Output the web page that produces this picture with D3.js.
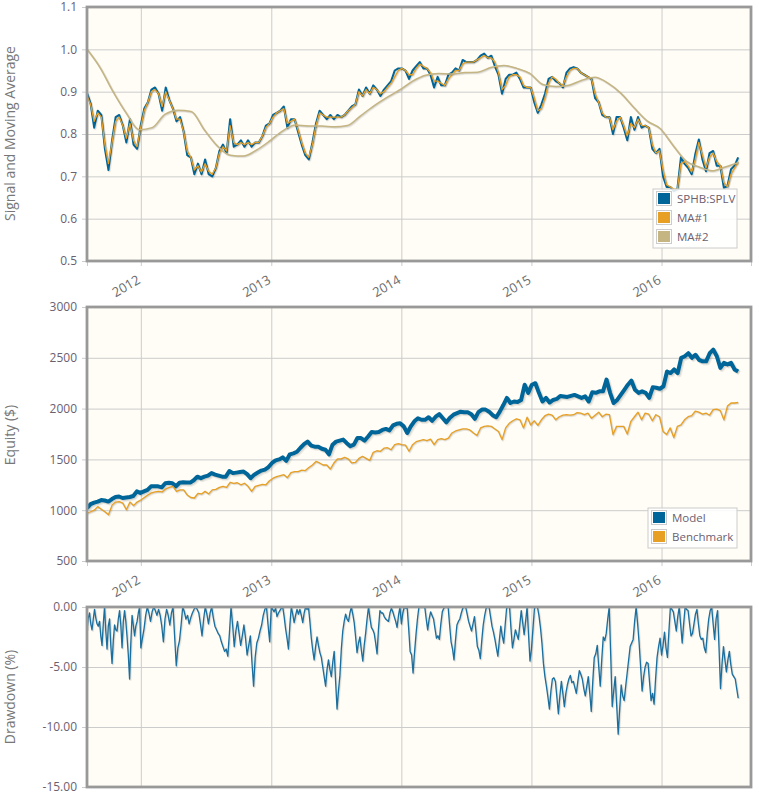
<!DOCTYPE html>
<html>
<head>
<meta charset="utf-8">
<script src="https://cdn.jsdelivr.net/npm/d3@7"></script>
<style>
body{margin:0;background:#fff}
text{font-family:"Open Sans",sans-serif}
</style>
</head>
<body>
<div id="canvas"></div>
<script>
"use strict"

let svgWidth=759
let svgHeight=793

let dataStart=new Date(2011,7,3)
let dataEnd=new Date(2016,7,3)
let axisEnd=new Date(2016,8,8)
let yearTicks=[2012,2013,2014,2015,2016]

let signalTicks=[0.5,0.6,0.7,0.8,0.9,1.0,1.1]
let equityTicks=[500,1000,1500,2000,2500,3000]
let drawdownTicks=[0,-5,-10,-15]

let signal=[.897,.872,.815,.855,.845,.765,.715,.785,.84,.845,.82,.78,.835,.775,.765,.82,.86,.875,.905,.91,.895,.855,.91,.88,.86,.83,.84,.805,.75,.745,.705,.73,.705,.74,.705,.70,.72,.76,.775,.755,.835,.77,.775,.785,.77,.785,.77,.78,.78,.795,.82,.825,.845,.85,.855,.865,.815,.835,.835,.805,.775,.75,.74,.78,.825,.855,.845,.835,.845,.835,.845,.84,.845,.855,.865,.87,.905,.89,.91,.895,.915,.905,
.89,.905,.915,.925,.95,.955,.955,.95,.93,.95,.96,.97,.955,.955,.94,.91,.935,.915,.915,.94,.945,.955,.95,.975,.97,.97,.97,.975,.985,.99,.98,.985,.96,.94,.895,.93,.94,.94,.945,.93,.91,.91,.91,.875,.85,.87,.895,.93,.935,.925,.92,.91,.945,.955,.958,.955,.945,.94,.935,.93,.885,.875,.845,.84,.84,.80,.84,.84,.815,.785,.84,.81,.84,.815,.82,.815,.765,.755,.765,.70,.675,.675,.665,.67,.745,.73,.72,.705,.752,.787,.74,.712,.755,.76,.725,.725,.673,.677,.717,.725,.745]

let maOne=[.89,.87,.83,.85,.84,.775,.73,.78,.83,.84,.82,.79,.825,.785,.77,.815,.855,.875,.90,.905,.895,.865,.90,.88,.86,.835,.835,.805,.76,.745,.715,.725,.71,.73,.712,.705,.72,.755,.77,.76,.82,.78,.775,.78,.775,.78,.775,.78,.78,.795,.815,.825,.84,.85,.855,.86,.825,.83,.835,.81,.78,.755,.745,.775,.82,.85,.845,.84,.84,.84,.84,.84,.845,.855,.862,.87,.90,.89,.905,.895,.91,.905,
.895,.90,.91,.92,.935,.95,.955,.95,.94,.94,.955,.965,.96,.955,.945,.925,.925,.92,.915,.93,.94,.95,.95,.965,.97,.97,.97,.975,.98,.985,.98,.98,.97,.945,.905,.915,.935,.94,.94,.935,.915,.91,.91,.885,.855,.86,.885,.92,.935,.93,.92,.915,.935,.95,.955,.955,.945,.94,.935,.93,.895,.875,.85,.84,.84,.81,.83,.84,.82,.795,.825,.815,.835,.82,.82,.815,.775,.755,.76,.715,.68,.675,.67,.67,.73,.735,.725,.71,.74,.78,.75,.72,.745,.755,.735,.725,.685,.675,.705,.72,.735]

let maTwo=[1.0,.957,.90,.85,.81,.815,.847,.856,.853,.81,.772,.75,.748,.762,.783,.807,.821,.819,.819,.817,.82,.843,.866,.886,.904,.925,.939,.943,.942,.945,.946,.957,.962,.955,.943,.917,.912,.915,.927,.934,.92,.896,.862,.831,.813,.773,.736,.722,.713,.722,.732]

let model=[1020,1060,1075,1085,1100,1095,1085,1110,1130,1135,1120,1125,1130,1140,1185,1170,1185,1200,1235,1235,1235,1225,1265,1270,1265,1235,1270,1275,1272,1272,1295,1330,1315,1330,1340,1365,1350,1340,1330,1330,1385,1365,1370,1375,1380,1355,1315,1350,1370,1390,1400,1425,1465,1490,1500,1520,1485,1550,1560,1575,1615,1650,1675,1635,1625,1625,1605,1595,1550,1645,1675,1685,1695,1660,1630,1645,1710,1710,1685,1725,1770,1765,
1770,1790,1800,1785,1835,1850,1855,1825,1760,1825,1875,1905,1890,1890,1915,1880,1920,1945,1905,1865,1910,1940,1955,1970,1965,1965,1945,1900,1965,1990,1990,1970,1935,1915,1970,2035,2105,2055,2070,2065,2085,2235,2155,2235,2250,2155,2070,2105,2060,2085,2095,2125,2120,2115,2125,2135,2120,2105,2120,2070,2160,2155,2170,2170,2285,2155,2055,2085,2135,2185,2235,2275,2185,2155,2170,2155,2105,2210,2205,2195,2220,2365,2350,2385,2350,2500,2515,2545,2500,2530,2480,2465,2465,2545,2580,2515,2400,2450,2435,2450,2385,2365]

let benchmark=[970,985,1000,1035,1010,985,955,1050,1080,1085,1070,1005,1080,1045,1080,1100,1125,1150,1170,1180,1185,1180,1210,1225,1235,1185,1200,1200,1150,1125,1120,1165,1160,1185,1160,1200,1205,1225,1235,1225,1275,1265,1270,1250,1265,1235,1185,1235,1245,1255,1250,1290,1315,1330,1340,1350,1320,1370,1380,1380,1395,1390,1420,1445,1480,1465,1445,1445,1405,1465,1505,1505,1520,1505,1465,1470,1510,1530,1510,1490,1570,1585,
1580,1610,1615,1595,1645,1655,1645,1640,1580,1645,1675,1685,1695,1685,1700,1645,1695,1705,1695,1710,1760,1780,1790,1800,1800,1790,1760,1735,1810,1825,1830,1825,1800,1775,1695,1810,1855,1880,1900,1890,1810,1915,1840,1880,1835,1890,1930,1945,1935,1890,1920,1935,1940,1935,1940,1960,1955,1940,1955,1905,1935,1965,1920,1945,1940,1745,1825,1825,1825,1750,1875,1920,1965,1890,1955,1945,1880,1940,1920,1775,1745,1810,1715,1825,1840,1890,1920,1930,1975,1965,1945,1955,1935,1990,1995,1980,1890,2025,2055,2055,2060]

let dd2011=[-1.9,-.9,-.5,-1.4,-1.9,-1,-.2,-.9,-1.4,-1.6,-1.2,-2.4,-3.2,-1.4,0,-2,-3.5,-1.6,-1,-3.2,-4.7,-2.8,-1.5,-1.9,-2,-1,-.3,-1.5,-3.4,-1.2,-.3,-1.2,-2.5,-4,-6,-3,-.7,-1.5,-2.4,-1.6,-1.2,-.5,0]
let dd2012=[-3.4,-2.6,-1.8,-.7,0,-.5,-1.2,-.4,0,-.3,-.7,-.2,-.7,-1.6,-2.9,-1,-.2,-.7,-1.5,-.5,0,-2.5,-4.9,-3.4,-2.8,-1.5,0,-.4,-1,-.7,-1.4,-.9,-.5,-.2,0,-.2,-.5,-1.4,-2.4,-1,0,-.6,-1.4,-.5,0,-.9,-1.6,-1.9,-2.2,-2.4,-2.9,-3.3,-3.7,-3.5,-4.1,-2.2,0,-1.5,-3.3,-2,-1.2,-2.2,-3.2,-2.4,-1.5,-2.6,-4,-3.2,-2.4,-4.6,-6.6,-4.2,-3,-2.6,-2,-1.5,-.7,-.2,0,-1.5,-2.9]
let dd2013=[0,-.2,-.4,-.1,-.8,-.5,-.3,-.1,0,-.8,-1.8,-2.6,-3.5,-1.5,0,-.6,-1.3,-.7,-.2,-.6,-.2,-.7,-1.3,-.5,0,-.2,0,-1.2,-2.6,-3.6,-4.4,-3.3,-2.5,-3.2,-3.8,-4.2,-5,-5.8,-6.6,-5.2,-4.4,-5.2,-5.8,-4.6,-3.7,-6.2,-8.5,-7,-5.7,-3.5,-2,-1.2,-.6,-1,-1.2,-.5,0,-.6,-1.3,-2.5,-3.8,-3,-2.5,-3.6,-4.5,-3.2,-2.2,-1,0,-.9,-1.7,-1.9,-2.2,-3,-3.9,-1.8,-.3,-.5,-.5,-.8,-1,-1.1,-1.2,-.5,-.1,-.4,-.8,-1.2,-1.7,-.7,0]
let dd2014=[-1.4,-.5,0,-.1,-.1,-1.8,-3.7,-4,-5.5,-3.8,-2.3,-1,0,0,0,0,0,-1,-1.9,-1,-.4,-.7,-1,-1.8,-2.6,-2.4,-2.7,-1.4,-.4,-.1,0,0,0,-1.5,-2.9,-3.5,-4.4,-2.8,-1.5,-1.2,-1,-.5,-.1,0,0,-.6,-1.2,-1.6,-2,-1.4,-.8,-2,-3.3,-3.6,-4.3,-2.8,-1.5,-.7,-.1,0,0,-.8,-1.6,-2.1,-2.7,-3.4,-4.1,-2.8,-1.6,-2.4,-3,-1.5,-.1,0,0,-1.8,-3.4,-2.7,-1.9,-2.3,-2.7,-1.5,-.3,-1.3,-2.3,-1.2,0,-2.3,-4.5]
let dd2015=[-3.5,-1.8,-.1,0,0,-.7,-1.7,-3,-4.7,-5.8,-6.6,-7.5,-8.5,-7,-6,-5.9,-6.2,-7.5,-8.9,-7.4,-6.2,-7.2,-8.3,-7.2,-6.5,-6,-5.7,-6.3,-6.2,-6.7,-7.2,-6.2,-5.3,-5.6,-6,-6.8,-7.4,-6.6,-5.8,-7.2,-8.7,-6.2,-4.2,-3.9,-3.2,-5,-6.6,-4.4,-2.5,-2.8,-2.2,-1,0,-4,-8.3,-7,-5.8,-8.2,-10.6,-8.5,-6.5,-7.4,-7.8,-6.6,-5.5,-4.4,-3.3,-3,-2.7,-1.2,0,-1.4,-3,-5,-7,-5.8,-5,-4.6,-4.7,-6.3,-7.8,-7.2,-8.1,-6,-4.2,-3.3,-2.6]
let dd2016=[-4,-3.2,-2.1,-3.4,-4.2,-2,0,-.2,-.4,-1.2,-2,-.8,0,-1.5,-3,-1.4,0,-.2,-.3,-1.4,-2.4,-2.2,-1.4,-.6,-.2,-1.4,-2.4,-2.7,-2.6,-3.4,-3.8,-2.2,-1,-.3,0,-1.4,-2.7,-1,-.3,-3.4,-6.8,-4.8,-3.3,-4.4,-5.4,-4.4,-3.7,-4.8,-5.6,-5.8,-6,-6.8,-7.6]

let blue="#006699"
let orange="#e8a024"
let tan="#c5b583"

let plotLeft=87
let plotRight=751

let drawing=d3.select("#canvas")
    .append("svg")
    .attr("width",svgWidth)
    .attr("height",svgHeight)
    .style("display","block")

let x=d3.scaleTime().domain([dataStart,axisEnd]).range([plotLeft,plotRight])

// evenly spread a list of readings between two dates
function spread(values,from,to,closed){
    let step=(to-from)/(closed ? values.length-1 : values.length)
    return values.map((v,i)=>({date:new Date(+from+i*step),value:v}))
}

function drawLine(g,y,points,color,width,curve){
    let path=d3.line().x(d=>x(d.date)).y(d=>y(d.value)).curve(curve||d3.curveLinear)
    let shift=width>2 ? 1 : 0.6
    let offsets=[[shift*1.6,shift*1.6,0.07,width+1],[shift,shift,0.1,width]]
    offsets.forEach(o=>{
        g.append("path")
            .attr("d",path(points))
            .attr("transform",`translate(${o[0]},${o[1]})`)
            .attr("fill","none")
            .attr("stroke",`rgba(0,0,0,${o[2]})`)
            .attr("stroke-width",o[3])
            .attr("stroke-linejoin","round")
    })
    g.append("path")
        .attr("d",path(points))
        .attr("fill","none")
        .attr("stroke",color)
        .attr("stroke-width",width)
        .attr("stroke-linejoin","round")
}

function makePlot(id,top,bottom,domain,ticks,fmt,title,titleY,showYears){
    let y=d3.scaleLinear().domain(domain).range([bottom,top])
    let tickDates=yearTicks.map(t=>new Date(t,0,1))

    drawing.append("rect")
        .attr("x",plotLeft).attr("y",top)
        .attr("width",plotRight-plotLeft).attr("height",bottom-top)
        .attr("fill","#fffdf6")

    // grid from the axes
    let gridX=drawing.append("g")
        .attr("transform",`translate(0,${bottom})`)
        .call(d3.axisBottom(x).tickValues(tickDates).tickSize(top-bottom).tickFormat(""))
    gridX.select(".domain").remove()
    gridX.selectAll("line").attr("stroke","#cccccc").attr("stroke-width",1)

    let gridY=drawing.append("g")
        .attr("transform",`translate(${plotLeft},0)`)
        .call(d3.axisRight(y).tickValues(ticks).tickSize(plotRight-plotLeft).tickFormat(""))
    gridY.select(".domain").remove()
    gridY.selectAll("line").attr("stroke","#cccccc").attr("stroke-width",1)

    drawing.append("clipPath").attr("id",id)
        .append("rect")
        .attr("x",plotLeft).attr("y",top)
        .attr("width",plotRight-plotLeft+4).attr("height",bottom-top+4)

    let g=drawing.append("g").attr("clip-path",`url(#${id})`)

    let leftAxis=drawing.append("g")
        .attr("transform",`translate(${plotLeft},0)`)
        .call(d3.axisLeft(y).tickValues(ticks).tickSize(5).tickPadding(5).tickFormat(fmt))
    leftAxis.select(".domain").remove()
    leftAxis.selectAll("line").attr("stroke","#cccccc")
    leftAxis.selectAll("text")
        .attr("font-family","'Open Sans',sans-serif")
        .attr("font-size",12)
        .attr("fill","#6b6070")

    if(showYears){
        let bottomAxis=drawing.append("g")
            .attr("transform",`translate(0,${bottom})`)
            .call(d3.axisBottom(x).tickValues(tickDates.concat([dataStart,axisEnd])).tickSize(5)
                .tickFormat(d=>yearTicks.includes(d.getFullYear())&&d.getMonth()==0 ? d.getFullYear() : ""))
        bottomAxis.select(".domain").remove()
        bottomAxis.selectAll("line").attr("stroke","#cccccc")
        bottomAxis.selectAll("text")
            .attr("font-family","'Open Sans',sans-serif")
            .attr("font-size",13)
            .attr("fill","#6b6b6b")
            .attr("text-anchor","middle")
            .attr("dy",0)
            .attr("y",0)
            .attr("transform","translate(-13,29) rotate(-30)")
    }

    drawing.append("text")
        .attr("transform",`translate(15,${titleY}) rotate(-90)`)
        .attr("text-anchor","middle")
        .attr("font-size",14)
        .attr("fill","#777777")
        .text(title)

    return {g:g,y:y,top:top,bottom:bottom}
}

function drawFrame(plot){
    drawing.append("rect")
        .attr("x",plotLeft).attr("y",plot.top)
        .attr("width",plotRight-plotLeft).attr("height",plot.bottom-plot.top)
        .attr("fill","none")
        .attr("stroke","#999999")
        .attr("stroke-width",2.8)
}

function drawLegend(left,top,width,height,textX,rows){
    drawing.append("rect")
        .attr("x",left).attr("y",top)
        .attr("width",width).attr("height",height)
        .attr("fill","rgba(255,255,255,0.85)")
        .attr("stroke","#cccccc")
    rows.forEach((row,i)=>{
        let rowY=top+10+i*19
        drawing.append("rect")
            .attr("x",left+3.5).attr("y",rowY-7.5)
            .attr("width",15).attr("height",14)
            .attr("fill","#ffffff")
            .attr("stroke","#cccccc")
        drawing.append("rect")
            .attr("x",left+5).attr("y",rowY-6)
            .attr("width",12).attr("height",11)
            .attr("fill",row.color)
        drawing.append("text")
            .attr("x",textX).attr("y",rowY+4)
            .attr("font-size",11.5)
            .attr("fill","#6b6070")
            .text(row.name)
    })
}

// signal panel
let signalPlot=makePlot("clipSignal",7,261,[0.5,1.1],signalTicks,d=>d.toFixed(1),"Signal and Moving Average",133.5,true)
drawLine(signalPlot.g,signalPlot.y,spread(signal,dataStart,dataEnd,true),blue,2)
drawLine(signalPlot.g,signalPlot.y,spread(maOne,dataStart,dataEnd,true),orange,1.3)
drawLine(signalPlot.g,signalPlot.y,spread(maTwo,dataStart,dataEnd,true),tan,1.5,d3.curveMonotoneX)
drawFrame(signalPlot)
drawLegend(653,189,84,59,677,[{name:"SPHB:SPLV",color:blue},{name:"MA#1",color:orange},{name:"MA#2",color:tan}])

// equity panel
let equityPlot=makePlot("clipEquity",307,561,[500,3000],equityTicks,d=>d,"Equity ($)",435,true)
drawLine(equityPlot.g,equityPlot.y,spread(model,dataStart,dataEnd,true),blue,4)
drawLine(equityPlot.g,equityPlot.y,spread(benchmark,dataStart,dataEnd,true),orange,1.3)
drawFrame(equityPlot)
drawLegend(648,508,89,40,672,[{name:"Model",color:blue},{name:"Benchmark",color:orange}])

// drawdown panel, one list per calendar year
let drawdownPlot=makePlot("clipDrawdown",607,787,[-15,0],drawdownTicks,d=>d.toFixed(2),"Drawdown (%)",697,false)
let ddYears=[dd2011,dd2012,dd2013,dd2014,dd2015,dd2016]
let ddStarts=[dataStart].concat(yearTicks.map(t=>new Date(t,0,1)))
let ddPoints=[]
ddYears.forEach((list,i)=>{
    let last=i==ddYears.length-1
    ddPoints=ddPoints.concat(spread(list,ddStarts[i],last ? dataEnd : ddStarts[i+1],last))
})
drawLine(drawdownPlot.g,drawdownPlot.y,ddPoints,"#1a6f9f",1.3)
drawFrame(drawdownPlot)
</script>
</body>
</html>
